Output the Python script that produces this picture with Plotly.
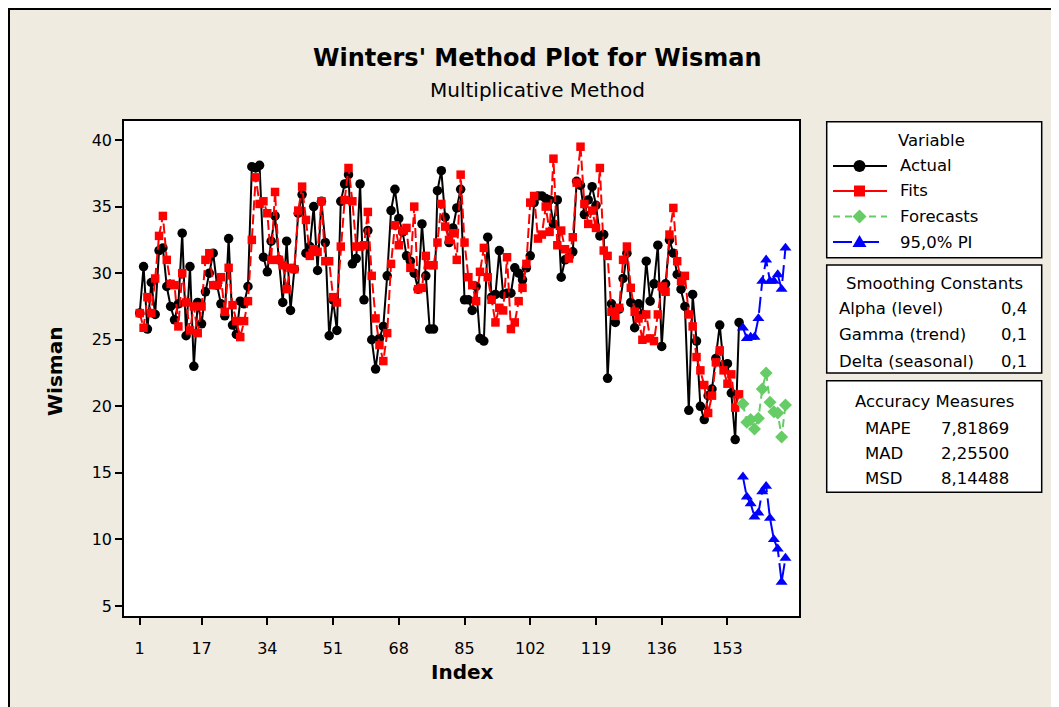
import plotly.graph_objects as go

W, H = 1059, 707
OFF = 8  # page margin of the browser body; reference pixel coords are measured on the page
FONT = "DejaVu Sans"

# ---------------- data ----------------
actual = [27.0, 30.5, 25.8, 29.3, 26.9, 31.7, 31.9, 29.0, 27.5, 26.5,
          27.7, 33.0, 25.3, 30.5, 23.0, 27.8, 26.2, 28.6, 30.0, 31.5,
          29.1, 27.7, 26.8, 32.6, 26.1, 25.4, 27.9, 27.7, 29.0, 38.0,
          37.9, 38.1, 31.2, 30.1, 32.4, 34.3, 31.0, 27.8, 32.4, 27.2,
          30.3, 34.5, 35.9, 31.5, 32.0, 35.0, 30.2, 35.4, 32.3, 25.3,
          28.0, 25.7, 35.4, 36.7, 37.4, 30.7, 31.1, 36.7, 28.0, 33.2,
          25.0, 22.8, 25.1, 26.0, 29.8, 34.7, 36.3, 34.1, 33.1, 31.3,
          30.9, 30.0, 28.8, 33.7, 29.8, 25.8, 25.8, 36.2, 37.7, 34.2,
          32.3, 33.4, 34.9, 36.3, 28.0, 28.0, 27.2, 29.0, 25.1, 24.9,
          32.7, 28.2, 28.4, 31.7, 28.4, 28.5, 28.5, 30.4, 30.0, 29.5,
          30.4, 31.3, 35.3, 35.8, 35.8, 35.6, 35.5, 33.7, 35.5, 29.7,
          31.0, 31.2, 31.6, 36.9, 36.6, 34.4, 35.5, 36.5, 35.1, 32.8,
          32.9, 22.1, 27.7, 26.3, 27.3, 29.6, 31.5, 27.8, 25.9, 27.7,
          26.9, 30.9, 27.9, 29.2, 32.1, 24.5, 29.2, 32.5, 31.5, 29.9,
          28.8, 27.5, 19.7, 28.4, 24.9, 20.0, 19.0, 20.8, 21.3, 23.6,
          26.1, 23.1, 23.2, 21.0, 17.5, 26.3]

fits = [27.0, 25.9, 28.2, 27.0, 29.6, 32.8, 34.3, 31.0, 29.2, 29.1,
        26.0, 30.0, 27.8, 25.7, 27.5, 25.5, 27.5, 31.0, 31.5, 29.1,
        29.1, 29.7, 27.1, 30.4, 27.6, 26.4, 25.2, 26.4, 27.9, 32.5,
        37.2, 35.2, 35.4, 34.5, 31.0, 36.1, 31.0, 30.6, 28.8, 30.4,
        30.3, 34.7, 36.5, 34.0, 31.3, 31.8, 31.6, 35.4, 30.9, 30.9,
        28.2, 27.8, 32.0, 35.5, 37.9, 35.4, 32.0, 32.0, 32.1, 34.6,
        29.8, 26.6, 24.6, 23.4, 25.5, 30.7, 33.6, 32.1, 33.2, 33.4,
        30.4, 35.0, 28.8, 28.9, 31.3, 30.6, 30.6, 32.3, 35.2, 33.5,
        32.5, 33.0, 31.0, 37.4, 32.3, 29.7, 29.1, 27.9, 30.1, 31.9,
        29.7, 28.0, 26.3, 27.4, 27.2, 31.2, 25.8, 26.3, 27.9, 28.9,
        30.7, 35.3, 35.8, 32.6, 32.9, 35.0, 33.1, 38.6, 32.1, 33.2,
        31.8, 31.1, 32.7, 36.8, 39.5, 35.2, 33.7, 34.7, 33.4, 37.9,
        31.7, 31.3, 27.1, 26.8, 27.4, 31.0, 32.0, 28.9, 27.1, 26.6,
        25.0, 26.9, 25.1, 24.9, 26.9, 29.0, 28.6, 32.9, 34.9, 30.9,
        29.4, 29.8, 26.9, 26.0, 23.7, 22.7, 21.6, 19.5, 20.8, 23.3,
        24.2, 22.7, 21.7, 22.4, 19.9, 20.9]

forecasts = [20.2, 18.8, 19.0, 18.3, 19.1, 21.3, 22.5, 20.3, 19.6, 19.5, 17.7, 20.1]
pi_upper = [25.9, 25.1, 25.2, 25.2, 26.6, 29.4, 31.0, 29.4, 29.4, 29.9, 28.8, 31.9]
pi_lower = [14.7, 13.2, 12.7, 11.7, 12.0, 13.6, 14.0, 11.6, 10.0, 9.3, 6.8, 8.6]

index_actual = list(range(1, len(actual) + 1))
index_forecast = list(range(len(actual) + 1, len(actual) + 1 + len(forecasts)))

x_ticks = [1, 17, 34, 51, 68, 85, 102, 119, 136, 153]
y_ticks = [5, 10, 15, 20, 25, 30, 35, 40]

legend_names = ["Actual", "Fits", "Forecasts", "95,0% PI"]
smoothing_names = ["Alpha (level)", "Gamma (trend)", "Delta (seasonal)"]
smoothing_values = ["0,4", "0,1", "0,1"]
accuracy_names = ["MAPE", "MAD", "MSD"]
accuracy_values = ["7,81869", "2,25500", "8,14488"]

# ---------------- styles ----------------
BLACK, RED, GREEN, BLUE = "#000000", "#FF0000", "#66CC66", "#0000FF"
RED_DASH, GREEN_DASH, BLUE_DASH = "10px,4px", "8px,5px", "16px,6px"


def px(x):
    return (x - OFF) / W


def py(y):
    return 1 - (y - OFF) / H


fig = go.Figure()
fig.add_trace(go.Scatter(
    x=index_actual, y=actual, mode="lines+markers", name="Actual",
    line=dict(color=BLACK, width=2),
    marker=dict(symbol="circle", size=9.5, color=BLACK)))
fig.add_trace(go.Scatter(
    x=index_actual, y=fits, mode="lines+markers", name="Fits",
    line=dict(color=RED, width=2, dash=RED_DASH),
    marker=dict(symbol="square", size=8.5, color=RED)))
fig.add_trace(go.Scatter(
    x=index_forecast, y=forecasts, mode="lines+markers", name="Forecasts",
    line=dict(color=GREEN, width=2, dash=GREEN_DASH),
    marker=dict(symbol="diamond", size=10, color=GREEN)))
fig.add_trace(go.Scatter(
    x=index_forecast, y=pi_upper, mode="lines+markers", name="95,0% PI",
    line=dict(color=BLUE, width=2, dash=BLUE_DASH),
    marker=dict(symbol="triangle-up", size=10.5, color=BLUE)))
fig.add_trace(go.Scatter(
    x=index_forecast, y=pi_lower, mode="lines+markers", name="95,0% PI lower",
    line=dict(color=BLUE, width=2, dash=BLUE_DASH),
    marker=dict(symbol="triangle-up", size=10.5, color=BLUE)))

axis_common = dict(
    ticks="outside", ticklen=7, tickwidth=1.5, tickcolor="black",
    showline=True, linecolor="black", linewidth=1.5, mirror=True,
    showgrid=False, zeroline=False,
    tickfont=dict(family=FONT, size=16, color="black"),
)

fig.update_layout(
    width=W, height=H,
    margin=dict(l=0, r=0, t=0, b=0),
    paper_bgcolor="#EFEBE1",
    plot_bgcolor="white",
    xaxis=dict(domain=[px(124), px(799)], range=[-3.06, 171.5],
               tickvals=x_ticks, ticktext=[str(v) for v in x_ticks],
               ticklabelstandoff=10, **axis_common),
    yaxis=dict(domain=[py(616), py(121)], range=[4.25, 41.43],
               tickvals=y_ticks, ticktext=[str(v) for v in y_ticks],
               **axis_common),
    showlegend=False,
    font=dict(family=FONT, color="black"),
)

shapes = []
# outer frame of the graph window (top and left edges visible)
shapes.append(dict(type="rect", xref="paper", yref="paper",
                   x0=1 / W, x1=2, y0=-1, y1=1 - 1 / H,
                   line=dict(color="black", width=2), layer="below"))
# boxes on the right
for (y0, y1) in [(121.7, 257.7), (265, 373), (380.7, 492.3)]:
    shapes.append(dict(type="rect", xref="paper", yref="paper",
                       x0=px(826.7), x1=px(1041.7), y0=py(y1), y1=py(y0),
                       line=dict(color="black", width=1.5),
                       fillcolor="white", layer="below"))

# legend keys (decoration inside the "Variable" box)
KEY_X0, KEY_X1, KEY_MX = 833, 887, 859.5
key_rows = [166, 191, 216.5, 242]
key_styles = [(BLACK, "solid"), (RED, "solid"), (GREEN, "7px,5px"), (BLUE, "19px,8px")]
for yy, (col, dash) in zip(key_rows, key_styles):
    shapes.append(dict(type="line", xref="paper", yref="paper",
                       x0=px(KEY_X0), x1=px(KEY_X1), y0=py(yy), y1=py(yy),
                       line=dict(color=col, width=2, dash=dash)))


def path(points):
    return "M " + " L ".join("%.6f,%.6f" % (px(a), py(b)) for a, b in points) + " Z"


r = 6
shapes.append(dict(type="circle", xref="paper", yref="paper",
                   x0=px(KEY_MX - r), x1=px(KEY_MX + r),
                   y0=py(key_rows[0] + r), y1=py(key_rows[0] - r),
                   fillcolor=BLACK, line=dict(width=0)))
s = 5.5
shapes.append(dict(type="rect", xref="paper", yref="paper",
                   x0=px(KEY_MX - s), x1=px(KEY_MX + s),
                   y0=py(key_rows[1] + s), y1=py(key_rows[1] - s),
                   fillcolor=RED, line=dict(width=0)))
d = 7
yk = key_rows[2]
shapes.append(dict(type="path", xref="paper", yref="paper",
                   path=path([(KEY_MX, yk - d), (KEY_MX + d, yk), (KEY_MX, yk + d), (KEY_MX - d, yk)]),
                   fillcolor=GREEN, line=dict(width=0)))
t = 7
yk = key_rows[3]
shapes.append(dict(type="path", xref="paper", yref="paper",
                   path=path([(KEY_MX, yk - t), (KEY_MX + t, yk + 5), (KEY_MX - t, yk + 5)]),
                   fillcolor=BLUE, line=dict(width=0)))
fig.update_layout(shapes=shapes)

ann = []


def add_text(text, x, y, size=16.5, xanchor="center", bold=False, angle=0):
    ann.append(dict(text=("<b>%s</b>" % text) if bold else text,
                    x=px(x), y=py(y), xref="paper", yref="paper",
                    xanchor=xanchor, yanchor="middle", showarrow=False,
                    textangle=angle,
                    font=dict(family=FONT, size=size, color="black")))


add_text("Winters' Method Plot for Wisman", 537.5, 58, size=24, bold=True)
add_text("Multiplicative Method", 537, 90, size=20)
add_text("Wisman", 55, 372, size=20, bold=True, angle=-90)
add_text("Index", 462, 672, size=20, bold=True)
add_text("Variable", 931, 140)
for yy, name in zip(key_rows, legend_names):
    add_text(name, 898, yy, xanchor="left")
add_text("Smoothing Constants", 934, 283)
for k, (n, v) in enumerate(zip(smoothing_names, smoothing_values)):
    yy = 308 + k * 26.5
    add_text(n, 837, yy, xanchor="left")
    add_text(v, 1029, yy, xanchor="right")
add_text("Accuracy Measures", 934, 401)
for k, (n, v) in enumerate(zip(accuracy_names, accuracy_values)):
    yy = 428 + k * 25
    add_text(n, 863, yy, xanchor="left")
    add_text(v, 939, yy, xanchor="left")
fig.update_layout(annotations=ann)

fig.write_html("out.html")
